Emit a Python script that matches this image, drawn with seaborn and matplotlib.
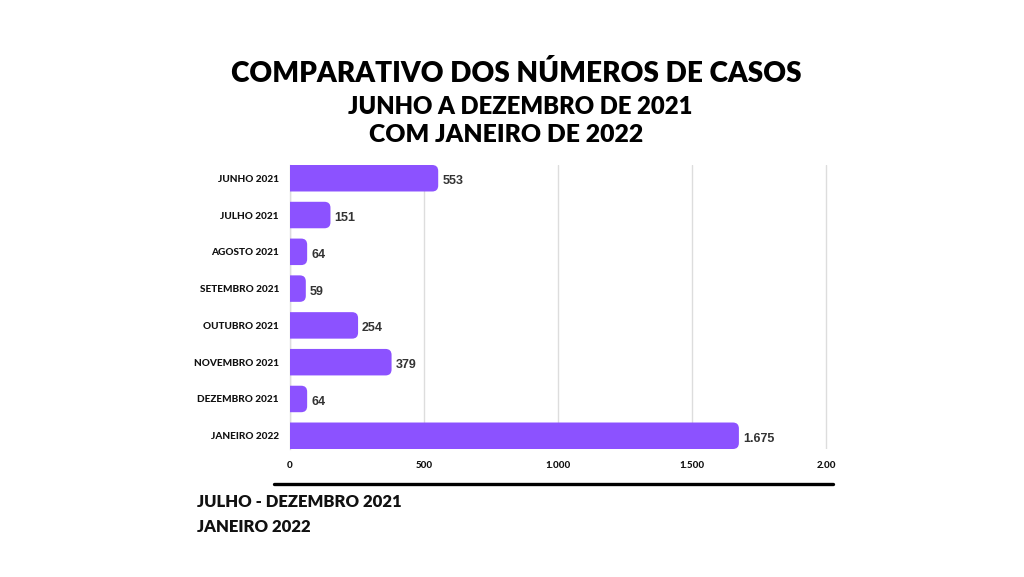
import matplotlib
matplotlib.use("Agg")
import matplotlib.pyplot as plt
import seaborn as sns
import pandas as pd
from matplotlib.patches import FancyBboxPatch

categories = ["JUNHO 2021", "JULHO 2021", "AGOSTO 2021", "SETEMBRO 2021",
              "OUTUBRO 2021", "NOVEMBRO 2021", "DEZEMBRO 2021", "JANEIRO 2022"]
cases = [553, 151, 64, 59, 254, 379, 64, 1675]
value_labels = ["553", "151", "64", "59", "254", "379", "64", "1.675"]
x_ticks = [0, 500, 1000, 1500, 2000]
x_tick_labels = ["0", "500", "1.000", "1.500", "2.00"]
title_lines = ["COMPARATIVO DOS NÚMEROS DE CASOS", "JUNHO A DEZEMBRO DE 2021", "COM JANEIRO DE 2022"]
footer_lines = ["JULHO - DEZEMBRO 2021", "JANEIRO 2022"]

sns.set_theme(style="white")
plt.rcParams['font.family'] = ['Lato', 'DejaVu Sans']

BAR = "#8C52FF"
W, H = 1024, 577
fig = plt.figure(figsize=(W / 100, H / 100), dpi=100)
fig.patch.set_facecolor("white")

ax_l, ax_r, ax_t, ax_b = 290, 826, 165, 449
ax = fig.add_axes([ax_l / W, 1 - ax_b / H, (ax_r - ax_l + 2) / W, (ax_b - ax_t) / H])

df = pd.DataFrame({"cat": categories, "val": cases})
sns.barplot(data=df, x="val", y="cat", orient="h", color=BAR, width=0.72,
            saturation=1, ax=ax, zorder=3)

x_per_px = 2000 / (ax_r - ax_l)
ax.set_xlim(0, 2000 + 2 * x_per_px)
ax.set_ylim(len(categories) - 1 + 0.36, -0.36)

# replace plain bars by bars with rounded right ends
y_per_px = (len(categories) - 1 + 0.72) / (ax_b - ax_t)
aspect = y_per_px / x_per_px
r = 6 * x_per_px
for p in list(ax.patches):
    x0, y0, w, h = p.get_x(), p.get_y(), p.get_width(), p.get_height()
    p.remove()
    fb = FancyBboxPatch((x0 - 3 * r, y0), w + 3 * r, h,
                        boxstyle=f"round,pad=0,rounding_size={r}",
                        mutation_aspect=aspect, facecolor=BAR, edgecolor="none", zorder=3)
    ax.add_patch(fb)

for i, (v, lab) in enumerate(zip(cases, value_labels)):
    ax.text(v + 4 * x_per_px, i + 3 * y_per_px, lab, va="center", ha="left",
            fontsize=9, fontweight="bold", color="#333333",
            family=["Liberation Sans", "DejaVu Sans"], zorder=4)

ax.set_xticks(x_ticks)
ax.set_xticklabels(x_tick_labels)
ax.grid(axis="x", color="#dddddd", linewidth=1, zorder=0)
ax.grid(axis="y", visible=False)
for s in ["top", "right", "bottom"]:
    ax.spines[s].set_visible(False)
ax.spines["left"].set_color("#dddddd")
ax.spines["left"].set_linewidth(1)
ax.tick_params(axis="x", length=0, pad=9, labelsize=7, labelcolor="#111111")
ax.tick_params(axis="y", length=0, pad=8, labelsize=7.2, labelcolor="#111111")
for t in ax.get_xticklabels() + ax.get_yticklabels():
    t.set_fontweight("black")

ax.set_xlabel("")
ax.set_ylabel("")

# title
fig.text(516 / W, 1 - 74 / H, title_lines[0], ha="center", va="center",
         fontsize=20.2, fontweight="heavy", color="black")
fig.text(520 / W, 1 - 107 / H, title_lines[1], ha="center", va="center",
         fontsize=17.2, fontweight="heavy", color="black")
fig.text(506 / W, 1 - 135 / H, title_lines[2], ha="center", va="center",
         fontsize=17.8, fontweight="heavy", color="black")

# separator line
fig.add_artist(plt.Line2D([274 / W, 833 / W], [1 - 483.5 / H, 1 - 483.5 / H],
                          color="black", linewidth=2.4, transform=fig.transFigure))

fig.text(197 / W, 1 - 507 / H, footer_lines[0], ha="left", va="baseline",
         fontsize=12, fontweight="heavy", color="#111111")
fig.text(197 / W, 1 - 531.5 / H, footer_lines[1], ha="left", va="baseline",
         fontsize=12, fontweight="heavy", color="#111111")

fig.savefig("out.png", dpi=100, facecolor="white")
